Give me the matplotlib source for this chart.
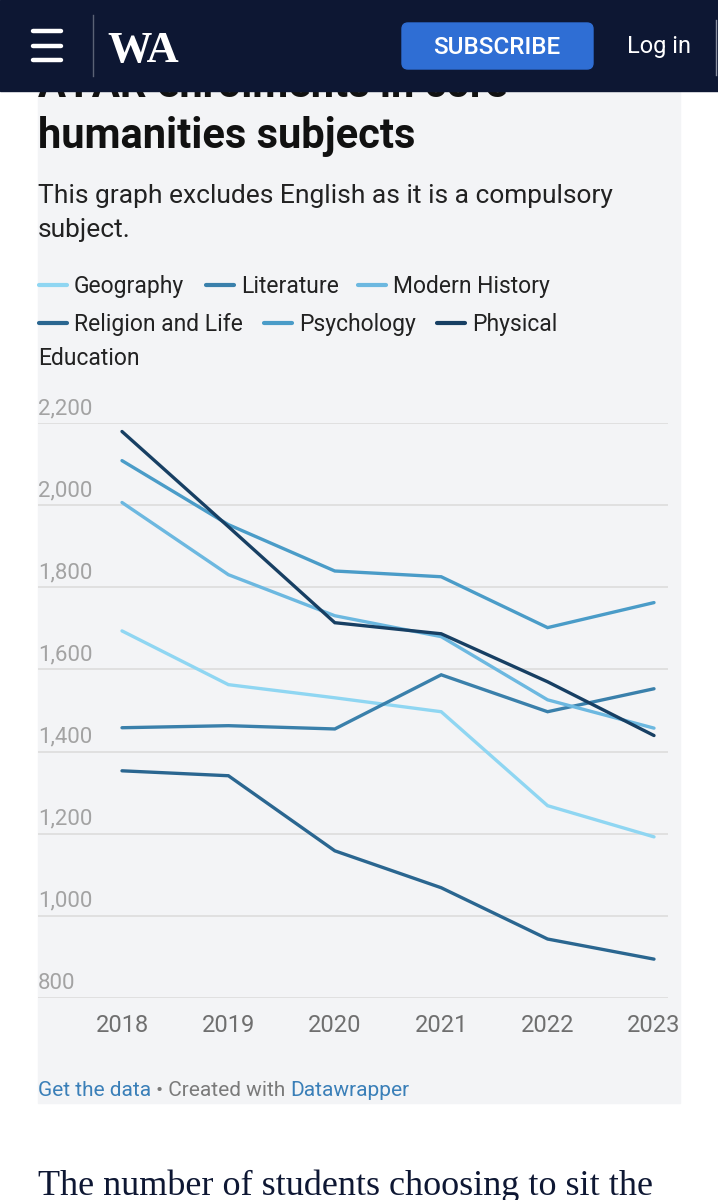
import matplotlib
matplotlib.use("Agg")
import matplotlib.pyplot as plt
import matplotlib.transforms as mtransforms
from matplotlib.patches import Rectangle, FancyBboxPatch

plt.rcParams['font.family'] = ['Roboto', 'DejaVu Sans']

# データ
years = [2018, 2019, 2020, 2021, 2022, 2023]
geography = [1694, 1563, 1531, 1497, 1268, 1192]
literature = [1458, 1463, 1455, 1587, 1497, 1553]
modern_history = [2007, 1831, 1731, 1680, 1526, 1457]
religion_life = [1353, 1341, 1158, 1068, 943, 894]
psychology = [2109, 1953, 1840, 1826, 1702, 1763]
physical_ed = [2180, 1948, 1714, 1687, 1570, 1439]

series_names = ["Geography", "Literature", "Modern History",
                "Religion and Life", "Psychology", "Physical Education"]
series_values = [geography, literature, modern_history,
                 religion_life, psychology, physical_ed]
colors = ["#8fd6f2", "#3a80ab", "#6cb8e0", "#2a6690", "#4a9cc8", "#173f63"]

y_ticks = [800, 1000, 1200, 1400, 1600, 1800, 2000, 2200]
y_tick_labels = ["800", "1,000", "1,200", "1,400", "1,600", "1,800", "2,000", "2,200"]
x_tick_labels = ["2018", "2019", "2020", "2021", "2022", "2023"]

W, H = 718, 1200
fig = plt.figure(figsize=(W / 100, H / 100), dpi=100)
fig.patch.set_facecolor("white")

# ページ全体（ピクセル座標）
bg = fig.add_axes([0, 0, 1, 1])
bg.set_xlim(0, W)
bg.set_ylim(H, 0)
bg.axis("off")

# チャートの背景カード
bg.add_patch(Rectangle((38, 60), 642, 1043, color="#f3f4f6", zorder=0))

# タイトル・サブタイトル（1行目はヘッダーの下に隠れている）
card_clip = Rectangle((0, 91), W, H - 91, transform=bg.transData)
t0 = bg.text(38, 97, "ATAR enrolments in core", fontsize=30, fontweight="bold",
             color="#111111", va="baseline", zorder=1)
t0.set_clip_path(card_clip)
bg.text(38, 148, "humanities subjects", fontsize=30, fontweight="bold",
        color="#111111", va="baseline", zorder=1)
bg.text(38, 203, "This graph excludes English as it is a compulsory",
        fontsize=19, color="#222222", va="baseline")
bg.text(38, 237, "subject.", fontsize=19, color="#222222", va="baseline")

# 凡例
legend_pos = [(38, 293), (205, 293), (357, 293), (38, 331), (263, 331), (436, 331)]
for (lx, ly), name, c in zip(legend_pos, series_names, colors):
    bg.plot([lx + 1, lx + 29], [ly - 8, ly - 8], color=c, lw=3, solid_capstyle="round")
    if name == "Physical Education":
        bg.text(lx + 36, ly, "Physical", fontsize=16.5, color="#222222", va="baseline")
        bg.text(38, 365, "Education", fontsize=16.5, color="#222222", va="baseline")
    else:
        bg.text(lx + 36, ly, name, fontsize=16.5, color="#222222", va="baseline")

# 折れ線グラフ
top_px, bot_px = 423.3, 997.7
left_px, right_px = 38, 668
ax = fig.add_axes([left_px / W, (H - bot_px) / H, (right_px - left_px) / W,
                   (bot_px - top_px) / H])
ax.set_facecolor("none")
ax.set_ylim(800, 2200)
ax.set_xlim(2018 - 84 / 106.4, 2023 + 14 / 106.4)
for s in ax.spines.values():
    s.set_visible(False)
ax.set_yticks(y_ticks)
ax.set_yticklabels([])
ax.tick_params(axis="y", length=0)
ax.yaxis.grid(True, color="#dedede", lw=1.3)
ax.set_axisbelow(True)
ax.set_xticks(years)
ax.set_xticklabels(x_tick_labels, fontsize=17, color="#6f6f6f")
ax.tick_params(axis="x", length=0, pad=12)

trans = mtransforms.blended_transform_factory(ax.transAxes, ax.transData)
trans = mtransforms.offset_copy(trans, fig=fig, y=9, units="dots")
for v, lab in zip(y_ticks, y_tick_labels):
    ax.text(0, v, lab, transform=trans, fontsize=16, color="#a3a3a3",
            va="baseline", ha="left")

for vals, c in zip(series_values, colors):
    ax.plot(years, vals, color=c, lw=2.4, solid_capstyle="round",
            solid_joinstyle="miter", clip_on=False)

# フッター
px_y = mtransforms.blended_transform_factory(mtransforms.IdentityTransform(), bg.transData)
t1 = bg.text(38, 1096, "Get the data", fontsize=15, color="#3a7fb8", va="baseline")
fig.canvas.draw()
t2 = bg.text(t1.get_window_extent().x1, 1096, " \u2022 Created with ", fontsize=15,
             color="#7a7a7a", va="baseline", transform=px_y)
fig.canvas.draw()
bg.text(t2.get_window_extent().x1, 1096, "Datawrapper", fontsize=15, color="#3a7fb8",
        va="baseline", transform=px_y)

# 記事本文
bg.text(38, 1195, "The number of students choosing to sit the", fontsize=26,
        family="Liberation Serif", color="#0e1733", va="baseline")

# ヘッダー
bg.add_patch(Rectangle((0, 0), W, 91, color="#0d1733", zorder=5))
for hy in [31, 46, 60]:
    bg.plot([33, 61], [hy, hy], color="white", lw=3.2, solid_capstyle="round", zorder=6)
bg.plot([93, 93], [15, 76], color="#5a6275", lw=1, zorder=6)
bg.text(107, 62, "WA", fontsize=32, fontweight="bold", family="Liberation Serif",
        color="white", va="baseline", zorder=6)
bg.add_patch(FancyBboxPatch((402, 23), 191, 46, boxstyle="round,pad=0,rounding_size=6",
                            color="#2f6ed4", zorder=6))
bg.text(497, 47, "SUBSCRIBE", fontsize=17.5, fontweight="medium", color="white",
        ha="center", va="center", zorder=7)
bg.text(659, 47, "Log in", fontsize=17, color="white", ha="center", va="center", zorder=7)
bg.plot([716, 716], [20, 75], color="#8a90a0", lw=1, zorder=6)

fig.savefig("out.png", dpi=100)
